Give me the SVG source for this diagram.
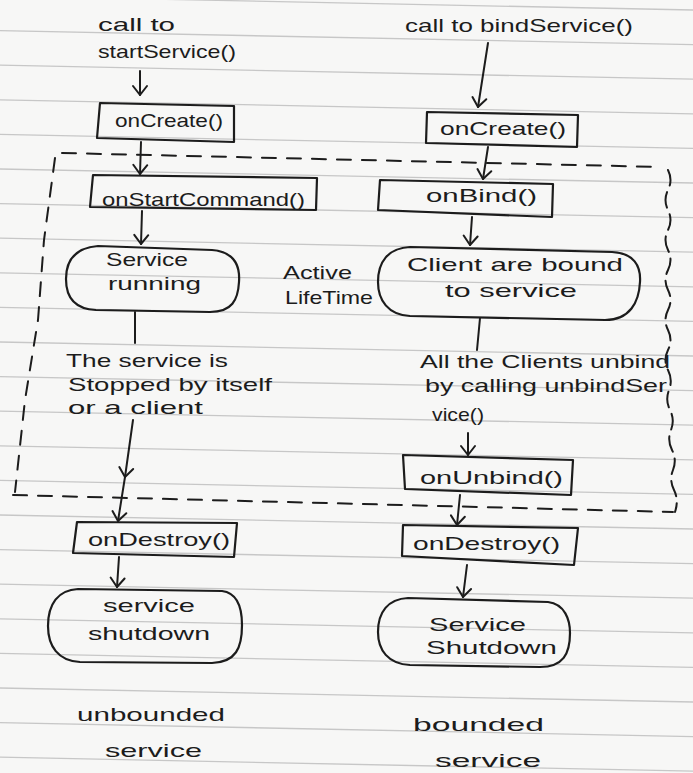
<svg xmlns="http://www.w3.org/2000/svg" width="693" height="773" viewBox="0 0 693 773">
  <defs>
    <style>
      .ink { fill: none; stroke: #1c1c1c; stroke-width: 2.2; stroke-linejoin: round; stroke-linecap: round; }
      .dash { fill: none; stroke: #1c1c1c; stroke-width: 2; stroke-dasharray: 14 11; stroke-linecap: round; }
      .rule { stroke: #c7c7c7; stroke-width: 1.3; }
      text { font-family: "Liberation Sans", Arial, sans-serif; font-size: 19px; fill: #1c1c1c; }
      .conn { fill: none; stroke: #1c1c1c; stroke-width: 2; stroke-linecap: round; }
    </style>
    <marker id="vhead" viewBox="-12 -10 14 20" markerWidth="14" markerHeight="20" refX="0" refY="0" orient="auto" markerUnits="userSpaceOnUse">
      <path d="M-9,-7 L0,0 L-9,7" fill="none" stroke="#1c1c1c" stroke-width="2" stroke-linecap="round" stroke-linejoin="round"/>
    </marker>
  </defs>

  <!-- ruled notebook paper -->
  <rect x="0" y="0" width="693" height="773" fill="#f7f7f6"/>
  <g id="ruling" class="rule">
    <line x1="0" y1="-4" x2="693" y2="10"/>
    <line x1="0" y1="30.6" x2="693" y2="44.6"/>
    <line x1="0" y1="65.2" x2="693" y2="79.2"/>
    <line x1="0" y1="99.8" x2="693" y2="113.8"/>
    <line x1="0" y1="134.4" x2="693" y2="148.4"/>
    <line x1="0" y1="169" x2="693" y2="183"/>
    <line x1="0" y1="203.6" x2="693" y2="217.6"/>
    <line x1="0" y1="238.2" x2="693" y2="252.2"/>
    <line x1="0" y1="272.8" x2="693" y2="286.8"/>
    <line x1="0" y1="307.4" x2="693" y2="321.4"/>
    <line x1="0" y1="342" x2="693" y2="356"/>
    <line x1="0" y1="376.6" x2="693" y2="390.6"/>
    <line x1="0" y1="411.2" x2="693" y2="425.2"/>
    <line x1="0" y1="445.8" x2="693" y2="459.8"/>
    <line x1="0" y1="480.4" x2="693" y2="494.4"/>
    <line x1="0" y1="515" x2="693" y2="529"/>
    <line x1="0" y1="549.6" x2="693" y2="563.6"/>
    <line x1="0" y1="584.2" x2="693" y2="598.2"/>
    <line x1="0" y1="618.8" x2="693" y2="632.8"/>
    <line x1="0" y1="653.4" x2="693" y2="667.4"/>
    <line x1="0" y1="688" x2="693" y2="702"/>
    <line x1="0" y1="722.6" x2="693" y2="736.6"/>
    <line x1="0" y1="757.2" x2="693" y2="771.2"/>
  </g>

  <!-- active lifetime boundary -->
  <g id="active-lifetime">
    <path class="dash" d="M62,153 L661,167"/>
    <path class="dash" d="M55,158 L44,240 L38,320 L25,400 L15,492"/>
    <path class="dash" d="M13,495 L673,512" />
    <path d="M668,170 q5,10 0,20 t0,20 t0,20 t0,20 t0,20 t0,20 t0,20 t0,20 t0,20 t0,20 t1,20 t1,20 t1,20 t1,20 t1,20 t1,20 t1,22" fill="none" stroke="#1c1c1c" stroke-width="2" stroke-dasharray="16 7" stroke-linecap="round"/>
    <text x="283" y="279" textLength="69" lengthAdjust="spacingAndGlyphs">Active</text>
    <text x="285" y="304" textLength="88" lengthAdjust="spacingAndGlyphs">LifeTime</text>
  </g>

  <!-- unbounded service column -->
  <g id="start-call">
    <text x="98" y="31" textLength="77" lengthAdjust="spacingAndGlyphs">call to</text>
    <text x="98" y="58" textLength="138" lengthAdjust="spacingAndGlyphs">startService()</text>
  </g>
  <g id="left-oncreate">
    <path class="ink" d="M100,103 L234,106 L234,142 L97,138 Z"/>
    <text x="115" y="127" textLength="108" lengthAdjust="spacingAndGlyphs">onCreate()</text>
  </g>
  <g id="onstartcommand">
    <path class="ink" d="M93,175 L317,178 L316,210 L90,207 Z"/>
    <text x="102" y="206" textLength="203" lengthAdjust="spacingAndGlyphs">onStartCommand()</text>
  </g>
  <g id="service-running">
    <path class="ink" d="M98,246 L212,250 C236,252 240,268 239,282 C238,300 232,312 210,312 L96,310 C74,309 66,296 66,279 C66,262 74,248 98,246 Z"/>
    <text x="106" y="266" textLength="82" lengthAdjust="spacingAndGlyphs">Service</text>
    <text x="108" y="290" textLength="93" lengthAdjust="spacingAndGlyphs">running</text>
  </g>
  <g id="stopped-note">
    <text x="66" y="367" textLength="162" lengthAdjust="spacingAndGlyphs">The service is</text>
    <text x="68" y="391" textLength="204" lengthAdjust="spacingAndGlyphs">Stopped by itself</text>
    <text x="68" y="414" textLength="135" lengthAdjust="spacingAndGlyphs">or a client</text>
  </g>
  <g id="left-ondestroy">
    <path class="ink" d="M77,522 L237,523 L234,557 L73,553 Z"/>
    <text x="88" y="546" textLength="142" lengthAdjust="spacingAndGlyphs">onDestroy()</text>
  </g>
  <g id="left-shutdown">
    <path class="ink" d="M78,589 L222,591 C238,593 242,608 242,625 C242,648 236,662 212,663 L80,662 C58,661 48,646 48,626 C48,604 58,590 78,589 Z"/>
    <text x="103" y="612" textLength="92" lengthAdjust="spacingAndGlyphs">service</text>
    <text x="88" y="640" textLength="122" lengthAdjust="spacingAndGlyphs">shutdown</text>
  </g>
  <g id="unbounded-caption">
    <text x="77" y="721" textLength="148" lengthAdjust="spacingAndGlyphs">unbounded</text>
    <text x="105" y="757" textLength="97" lengthAdjust="spacingAndGlyphs">service</text>
  </g>

  <!-- bounded service column -->
  <g id="bind-call">
    <text x="405" y="32" textLength="228" lengthAdjust="spacingAndGlyphs">call to bindService()</text>
  </g>
  <g id="right-oncreate">
    <path class="ink" d="M427,112 L578,115 L577,147 L426,143 Z"/>
    <text x="440" y="135" textLength="126" lengthAdjust="spacingAndGlyphs">onCreate()</text>
  </g>
  <g id="onbind">
    <path class="ink" d="M380,180 L553,184 L552,217 L378,210 Z"/>
    <text x="426" y="202" textLength="111" lengthAdjust="spacingAndGlyphs">onBind()</text>
  </g>
  <g id="clients-bound">
    <path class="ink" d="M410,247 L612,252 C634,253 641,266 640,282 C639,302 630,320 605,320 L410,316 C388,315 378,300 378,282 C378,262 388,248 410,247 Z"/>
    <text x="407" y="271" textLength="216" lengthAdjust="spacingAndGlyphs">Client are bound</text>
    <text x="445" y="297" textLength="132" lengthAdjust="spacingAndGlyphs">to service</text>
  </g>
  <g id="unbind-note">
    <text x="420" y="368" textLength="250" lengthAdjust="spacingAndGlyphs">All the Clients unbind</text>
    <text x="425" y="392" textLength="242" lengthAdjust="spacingAndGlyphs">by calling unbindSer</text>
    <text x="432" y="421" textLength="52" lengthAdjust="spacingAndGlyphs">vice()</text>
  </g>
  <g id="onunbind">
    <path class="ink" d="M403,455 L573,460 L571,495 L405,489 Z"/>
    <text x="420" y="484" textLength="143" lengthAdjust="spacingAndGlyphs">onUnbind()</text>
  </g>
  <g id="right-ondestroy">
    <path class="ink" d="M403,525 L578,528 L574,565 L402,556 Z"/>
    <text x="413" y="550" textLength="147" lengthAdjust="spacingAndGlyphs">onDestroy()</text>
  </g>
  <g id="right-shutdown">
    <path class="ink" d="M408,598 L548,602 C565,604 570,620 570,633 C570,654 563,667 540,667 L410,665 C388,664 378,650 378,632 C378,612 388,599 408,598 Z"/>
    <text x="429" y="631" textLength="97" lengthAdjust="spacingAndGlyphs">Service</text>
    <text x="426" y="654" textLength="131" lengthAdjust="spacingAndGlyphs">Shutdown</text>
  </g>
  <g id="bounded-caption">
    <text x="413" y="731" textLength="131" lengthAdjust="spacingAndGlyphs">bounded</text>
    <text x="435" y="767" textLength="106" lengthAdjust="spacingAndGlyphs">service</text>
  </g>

  <!-- connectors -->
  <g id="connectors">
    <path class="conn" d="M140,71 L140,95" marker-end="url(#vhead)"/>
    <path class="conn" d="M141,142 L140,174" marker-end="url(#vhead)"/>
    <path class="conn" d="M142,211 L141,244" marker-end="url(#vhead)"/>
    <path class="conn" d="M135,312 L135,343"/>
    <path class="conn" d="M133,420 L125,477" marker-end="url(#vhead)"/>
    <path class="conn" d="M125,477 L118,521" marker-end="url(#vhead)"/>
    <path class="conn" d="M119,557 L117,587" marker-end="url(#vhead)"/>

    <path class="conn" d="M488,43 L478,107" marker-end="url(#vhead)"/>
    <path class="conn" d="M488,147 L483,179" marker-end="url(#vhead)"/>
    <path class="conn" d="M472,217 L470,245" marker-end="url(#vhead)"/>
    <path class="conn" d="M480,318 L477,350"/>
    <path class="conn" d="M468,433 L468,455" marker-end="url(#vhead)"/>
    <path class="conn" d="M460,495 L457,525" marker-end="url(#vhead)"/>
    <path class="conn" d="M467,565 L463,597" marker-end="url(#vhead)"/>
  </g>
</svg>
